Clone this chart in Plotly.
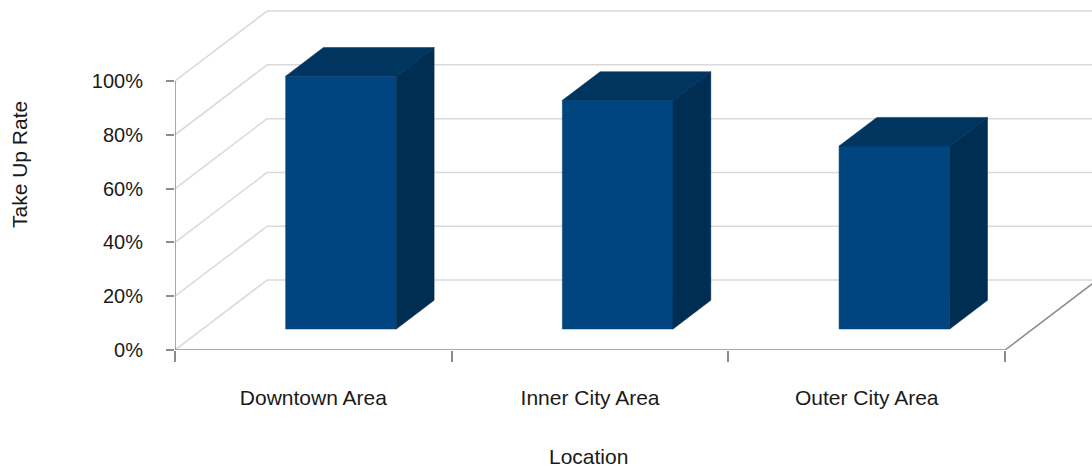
import plotly.graph_objects as go

# Chart data
locations = ["Downtown Area", "Inner City Area", "Outer City Area"]
take_up_rate = [94, 85, 68]          # percent
y_ticks = [0, 20, 40, 60, 80, 100]
y_tick_labels = ["0%", "20%", "40%", "60%", "80%", "100%"]

# Oblique 3-D projection parameters (in axis units)
DEPTH_X = 0.333      # horizontal shift of the back wall
DEPTH_Y = 26.0       # vertical shift of the back wall
BAR_HALF = 0.2       # half width of each column
F_FRONT, F_BACK = 0.30, 0.71   # depth fraction of the column front/back faces

FRONT = "#00457f"
TOP = "#00355f"
SIDE = "#002d52"
GRID = "#d9d9d9"
AXIS = "#8c8c8c"
FONT = "Liberation Sans, Arial, sans-serif"

x_lo, x_hi = -0.5, len(locations) - 0.5

fig = go.Figure()

shapes = []
# back wall grid lines and side wall diagonals
for v in y_ticks:
    shapes.append(dict(type="line", xref="x", yref="y", layer="below",
                       x0=x_lo + DEPTH_X, y0=v + DEPTH_Y,
                       x1=x_hi + DEPTH_X + 1, y1=v + DEPTH_Y,
                       line=dict(color=GRID, width=1.5)))
    shapes.append(dict(type="line", xref="x", yref="y", layer="below",
                       x0=x_lo, y0=v, x1=x_lo + DEPTH_X, y1=v + DEPTH_Y,
                       line=dict(color=GRID, width=1.5)))
# floor front edge, right edge and value axis line
shapes.append(dict(type="line", xref="x", yref="y", layer="below",
                   x0=x_lo, y0=0, x1=x_hi, y1=0,
                   line=dict(color=AXIS, width=1.5)))
shapes.append(dict(type="line", xref="x", yref="y", layer="below",
                   x0=x_hi, y0=0, x1=x_hi + DEPTH_X, y1=DEPTH_Y,
                   line=dict(color=AXIS, width=1.5)))
shapes.append(dict(type="line", xref="x", yref="y", layer="below",
                   x0=x_lo, y0=0, x1=x_lo, y1=y_ticks[-1],
                   line=dict(color=AXIS, width=1.5)))


def face(xs, ys, color):
    fig.add_trace(go.Scatter(x=xs + [xs[0]], y=ys + [ys[0]], mode="lines",
                             fill="toself", fillcolor=color,
                             line=dict(color=color, width=0.5),
                             hoverinfo="skip", showlegend=False))


for i, val in enumerate(take_up_rate):
    xl = i - BAR_HALF
    xr = i + BAR_HALF
    fx, fy = F_FRONT * DEPTH_X, F_FRONT * DEPTH_Y
    bx, by = F_BACK * DEPTH_X, F_BACK * DEPTH_Y
    # front face
    face([xl + fx, xr + fx, xr + fx, xl + fx],
         [fy, fy, val + fy, val + fy], FRONT)
    # top face
    face([xl + fx, xr + fx, xr + bx, xl + bx],
         [val + fy, val + fy, val + by, val + by], TOP)
    # right side face
    face([xr + fx, xr + bx, xr + bx, xr + fx],
         [fy, by, val + by, val + fy], SIDE)

fig.update_layout(
    width=1092, height=469,
    margin=dict(l=175, r=0, t=0, b=119),
    paper_bgcolor="white", plot_bgcolor="white",
    font=dict(family=FONT, size=21, color="#1a1a1a"),
    shapes=shapes,
    xaxis=dict(range=[x_lo, x_lo + 917 / 276.7], showgrid=False, zeroline=False,
               showline=False, tickvals=list(range(len(locations))),
               ticktext=locations, ticks="", ticklabelstandoff=33,
               minor=dict(tickvals=[x_lo + k for k in range(len(locations) + 1)],
                          ticks="outside", ticklen=11, tickcolor=AXIS,
                          tickwidth=1.5, showgrid=False),
               fixedrange=True),
    yaxis=dict(range=[0, 350 / 2.69], showgrid=False, zeroline=False,
               showline=False, tickvals=y_ticks, ticktext=y_tick_labels,
               ticks="outside", ticklen=8, tickcolor=AXIS, tickwidth=1.5,
               ticklabelstandoff=19, tickfont=dict(size=20), fixedrange=True),
    annotations=[
        dict(text="Take Up Rate", xref="paper", yref="paper",
             x=(19 - 175) / 917, y=(350 - 165) / 350, textangle=-90,
             showarrow=False, xanchor="center", yanchor="middle"),
        dict(text="Location", xref="paper", yref="paper",
             x=(588 - 175) / 917, y=(350 - 456) / 350,
             showarrow=False, xanchor="center", yanchor="middle"),
    ],
)

fig.write_html("out.html")
